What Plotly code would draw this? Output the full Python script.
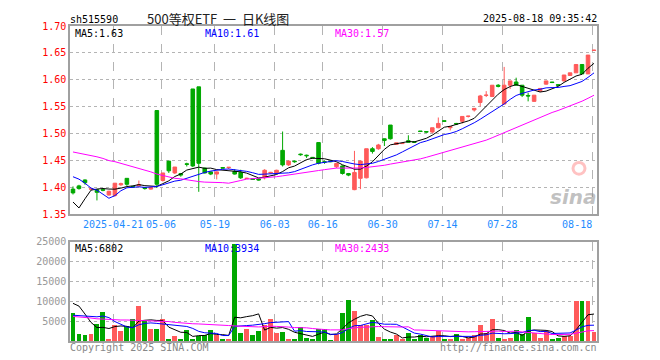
import plotly.graph_objects as go

# ---------------- data ----------------
opens = [1.397,1.403,1.414,1.397,1.396,1.396,1.386,1.385,1.405,1.417,
         1.402,1.403,1.400,1.397,1.543,1.413,1.449,1.427,1.426,1.444,
         1.583,1.587,1.436,1.429,1.425,1.437,1.437,1.430,1.428,1.4168,
         1.416,1.416,1.418,1.427,1.427,1.469,1.442,1.449,1.462,1.460,
         1.456,1.4835,1.448,1.449,1.4385,1.440,1.426,1.396,1.417,1.418,
         1.472,1.472,1.4905,1.516,1.480,1.4815,1.487,1.485,1.505,1.504,
         1.503,1.511,1.524,1.511,1.519,1.523,1.532,1.544,1.558,1.571,
         1.569,1.590,1.555,1.590,1.596,1.590,1.571,1.560,1.579,1.592,
         1.596,1.591,1.598,1.608,1.613,1.6285,1.611,1.6545]
highs = [1.402,1.405,1.415,1.398,1.397,1.399,1.394,1.408,1.409,1.417,
         1.403,1.413,1.401,1.401,1.543,1.427,1.449,1.438,1.427,1.446,
         1.583,1.587,1.437,1.430,1.430,1.438,1.438,1.434,1.433,1.418,
         1.416,1.417,1.434,1.429,1.433,1.504,1.450,1.450,1.463,1.461,
         1.456,1.4835,1.450,1.450,1.446,1.441,1.427,1.468,1.450,1.472,
         1.475,1.481,1.491,1.516,1.483,1.482,1.497,1.485,1.505,1.504,
         1.511,1.530,1.524,1.513,1.520,1.532,1.533,1.547,1.572,1.579,
         1.590,1.592,1.624,1.598,1.604,1.590,1.576,1.5715,1.584,1.598,
         1.596,1.591,1.609,1.613,1.6285,1.6285,1.646,1.656]
lows = [1.387,1.396,1.405,1.396,1.376,1.393,1.385,1.383,1.403,1.403,
        1.400,1.402,1.396,1.396,1.399,1.411,1.427,1.425,1.420,1.439,
        1.438,1.392,1.426,1.423,1.415,1.436,1.434,1.424,1.416,1.416,
        1.415,1.413,1.415,1.426,1.426,1.439,1.440,1.446,1.459,1.455,
        1.454,1.443,1.444,1.447,1.436,1.424,1.421,1.395,1.397,1.417,
        1.463,1.470,1.477,1.489,1.480,1.481,1.483,1.483,1.504,1.502,
        1.501,1.510,1.522,1.506,1.516,1.519,1.530,1.541,1.5506,1.568,
        1.568,1.586,1.555,1.583,1.589,1.568,1.560,1.559,1.578,1.591,
        1.594,1.589,1.597,1.608,1.613,1.611,1.611,1.654]
closes = [1.390,1.398,1.409,1.3975,1.391,1.395,1.393,1.408,1.407,1.406,
          1.401,1.405,1.398,1.400,1.406,1.427,1.431,1.438,1.423,1.443,
          1.440,1.445,1.427,1.425,1.429,1.436,1.4375,1.425,1.418,1.417,
          1.415,1.414,1.432,1.428,1.432,1.442,1.449,1.448,1.461,1.459,
          1.455,1.445,1.447,1.448,1.4447,1.426,1.423,1.428,1.449,1.472,
          1.467,1.479,1.4875,1.4905,1.483,1.4818,1.484,1.484,1.504,1.503,
          1.511,1.519,1.523,1.513,1.518,1.532,1.5325,1.547,1.570,1.5715,
          1.590,1.588,1.590,1.598,1.590,1.5715,1.570,1.5715,1.584,1.598,
          1.595,1.590,1.609,1.613,1.6285,1.611,1.646,1.655]
volumes = [7040,1900,1650,1900,4400,7370,410,4140,2650,3890,
           5630,8860,5130,3150,3150,5630,410,1400,410,2900,
           660,1400,1650,2900,1650,410,410,24600,2150,3150,
           1650,2650,4140,5630,2150,2400,410,410,3640,910,
           410,3150,3150,400,1800,7100,10400,7700,4100,4000,
           5400,1000,450,450,1500,450,2150,450,1550,750,
           1400,2500,450,450,1700,600,750,1500,4150,2080,
           5650,900,450,900,2900,1900,6200,2000,700,2600,
           450,700,1400,1400,10100,10100,10100,2310]

# moving-average values before enough history is visible
ma5_head = [1.373, 1.362, 1.379, 1.395]
ma10_head = [1.420, 1.4155, 1.408, 1.399, 1.395, 1.387, 1.380, 1.385, 1.394]
ma30_head = [1.466, 1.464, 1.462, 1.459, 1.457, 1.454, 1.450, 1.448, 1.445, 1.442,
             1.439, 1.436, 1.433, 1.429, 1.425, 1.422, 1.419, 1.417, 1.416, 1.414,
             1.412, 1.411, 1.410, 1.410, 1.410, 1.409, 1.408, 1.410, 1.413]
vma5_head = [9500, 8800, 6800, 4700]
vma10_head = [6500, 6400, 6200, 6100, 6100, 6300, 5900, 4900, 4200]
vma30_head = [6200, 6100, 6000, 5800, 5600, 5500, 5400, 5300, 5300, 5300,
              5250, 5250, 5200, 5200, 5150, 5100, 4900, 4700, 4550, 4450,
              4350, 4300, 4250, 4200, 4150, 4000, 3900, 3800, 3750]

tick_index = [7, 15, 24, 34, 42, 52, 62, 72, 87]
tick_labels = ["2025-04-21", "05-06", "05-19", "06-03", "06-16", "06-30", "07-14", "07-28", "08-18"]
price_ticks = [1.35, 1.40, 1.45, 1.50, 1.55, 1.60, 1.65, 1.70]
vol_ticks = [5000, 10000, 15000, 20000, 25000]

code = "sh515590"
title = "500等权ETF \u00a0一\u00a0 日K线图"
stamp = "2025-08-18 09:35:42"
ma_labels = ["MA5:1.63", "MA10:1.61", "MA30:1.57"]
vma_labels = ["MA5:6802", "MA10:3934", "MA30:2433"]


def moving_avg(values, n, head):
    out = []
    for i in range(len(values)):
        if i < n - 1:
            out.append(head[i])
        else:
            out.append(sum(values[i - n + 1:i + 1]) / n)
    return out


# ---------------- styling ----------------
RED = "#FF5A5A"
GREEN = "#00A800"
MA_COLORS = ["#000000", "#0000FF", "#FF00FF"]
MONO = "DejaVu Sans Mono"
GRID = "#B4B4B4"
FRAME = "#A0A0A0"

OFF = 8                     # page margin of the html body
W, H = 660 - OFF, 360 - OFF
# plot frame in page pixels: left 70, top 20, right 597, bottom 341
L, T = 70 - OFF, 20 - OFF
R = 660 - 597
B = 360 - 341
PW, PH = W - L - R, H - T - B


def px(x):  # page x -> paper
    return (x - 70) / PW


def py(y):  # page y -> paper
    return (341 - y) / PH


n = len(closes)
x = list(range(n))
vol_colors = [RED if c >= o else GREEN for o, c in zip(opens, closes)]

fig = go.Figure()
fig.add_trace(go.Candlestick(
    x=x, open=opens, high=highs, low=lows, close=closes,
    increasing=dict(line=dict(color=RED, width=1), fillcolor=RED),
    decreasing=dict(line=dict(color=GREEN, width=1), fillcolor=GREEN),
    whiskerwidth=0, xaxis="x", yaxis="y", hoverinfo="skip"))

for period, head, col in zip([5, 10, 30], [ma5_head, ma10_head, ma30_head], MA_COLORS):
    fig.add_trace(go.Scatter(x=x, y=moving_avg(closes, period, head), mode="lines",
                             line=dict(color=col, width=1), xaxis="x", yaxis="y",
                             hoverinfo="skip"))

fig.add_trace(go.Bar(x=x, y=volumes, marker=dict(color=vol_colors, line=dict(width=0)),
                     width=0.82, xaxis="x2", yaxis="y2", hoverinfo="skip"))
for period, head, col in zip([5, 10, 30], [vma5_head, vma10_head, vma30_head], MA_COLORS):
    fig.add_trace(go.Scatter(x=x, y=moving_avg(volumes, period, head), mode="lines",
                             line=dict(color=col, width=1), xaxis="x2", yaxis="y2",
                             hoverinfo="skip"))

tickvals = [i - 0.3 for i in tick_index]
ticktext = tick_labels[:-1] + [tick_labels[-1] + "\u00a0" * 5]

common_x = dict(range=[-0.5, n - 0.5], tickmode="array", tickvals=tickvals,
                showgrid=True, gridcolor=GRID, griddash="dash", gridwidth=1,
                showline=True, mirror=True, linecolor=FRAME, linewidth=1.5,
                zeroline=False, ticks="", fixedrange=True)

fig.update_layout(
    width=W, height=H, autosize=False,
    margin=dict(l=L, r=R, t=T, b=B, pad=0),
    paper_bgcolor="white", plot_bgcolor="white",
    showlegend=False, hovermode=False, boxgap=0.15, bargap=0,
    xaxis=dict(common_x, domain=[0, 1], anchor="y", ticktext=ticktext,
               tickfont=dict(family=MONO, size=10, color="#1E8CFF"),
               rangeslider=dict(visible=False)),
    xaxis2=dict(common_x, domain=[0, 1], anchor="y2", matches="x", showticklabels=False),
    yaxis=dict(domain=[py(212), 1], range=[1.35, 1.70], tickmode="array",
               tickvals=price_ticks, ticktext=["%.2f" % v for v in price_ticks],
               tickfont=dict(family=MONO, size=10, color="#FF0000"),
               showgrid=True, gridcolor=GRID, griddash="dot", gridwidth=1,
               showline=True, mirror=True, linecolor=FRAME, linewidth=1.5,
               zeroline=False, ticks="", fixedrange=True),
    yaxis2=dict(domain=[0, py(240)], range=[0, 25000], tickmode="array",
                tickvals=vol_ticks, ticktext=[str(v) for v in vol_ticks],
                tickfont=dict(family=MONO, size=10, color="#999999"),
                showgrid=True, gridcolor=GRID, griddash="dot", gridwidth=1,
                showline=True, mirror=True, linecolor=FRAME, linewidth=1.5,
                zeroline=False, ticks="", fixedrange=True),
)


def note(text, x, y, xanchor="left", color="#000", size=10, family=MONO, **kw):
    fig.add_annotation(text=text, x=px(x), y=py(y), xref="paper", yref="paper",
                       xanchor=xanchor, yanchor="middle", showarrow=False,
                       borderpad=0, font=dict(family=family, size=size, color=color), **kw)


note(code, 69, 13)
note(title, 218, 12, xanchor="center", size=13, family="Noto Sans CJK SC", color="#222")
note(stamp, 598, 12, xanchor="right")
for lbl, xx, col in zip(ma_labels, [74, 204, 334], MA_COLORS):
    note(lbl, xx, 28, color=col)
for lbl, xx, col in zip(vma_labels, [74, 204, 334], MA_COLORS):
    note(lbl, xx, 247, color=col)
note("Copyright 2025 SINA.COM", 69, 348, color="#888888")
note("http://finance.sina.com.cn", 598, 348, xanchor="right", color="#888888")
# watermark logo
note("<b><i>sina</i></b>", 573, 194, xanchor="center", size=20, family="DejaVu Sans",
     color="rgba(140,140,140,0.55)")
fig.add_shape(type="circle", xref="paper", yref="paper",
              x0=px(573), x1=px(585), y0=py(171), y1=py(159),
              line=dict(color="rgba(255,120,120,0.45)", width=3))

fig.write_html("out.html")
